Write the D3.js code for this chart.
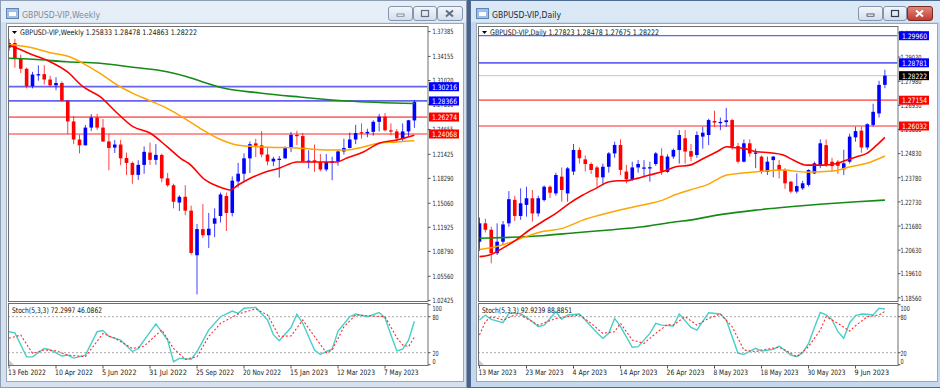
<!DOCTYPE html>
<html>
<head>
<meta charset="utf-8">
<script src="https://cdn.jsdelivr.net/npm/d3@7/dist/d3.min.js"></script>
<style>
html,body{margin:0;padding:0;background:#6f86a6;}
svg{display:block;}
</style>
</head>
<body>
<svg id="chart" width="940" height="388"></svg>
<script>
// ================= WEEKLY (left window) =================
const weeklyTitle = "GBPUSD-VIP,Weekly";
const weeklyHeader = "GBPUSD-VIP,Weekly  1.25833 1.28478 1.24863 1.28222";
const weeklyStochLabel = "Stoch(5,3,3) 72.2997 46.0862";
const weeklyDateIdx = [0, 8, 16, 24, 32, 40, 48, 56, 64];
const weeklyDateLabels = ["13 Feb 2022","10 Apr 2022","5 Jun 2022","31 Jul 2022","25 Sep 2022","20 Nov 2022","15 Jan 2023","12 Mar 2023","7 May 2023"];
const weeklyPriceTicks = [1.37385,1.34155,1.31020,1.27890,1.24655,1.21425,1.18290,1.15060,1.11925,1.08790,1.05560,1.02425];
const weeklyOpen = [1.3530,1.3590,1.3385,1.3255,1.3030,1.3180,1.3185,1.3115,1.3040,1.3070,
  1.2840,1.2570,1.2335,1.2260,1.2490,1.2620,1.2490,1.2310,1.2230,1.2270,
  1.2095,1.2030,1.1875,1.2005,1.2165,1.2070,1.2135,1.1830,1.1740,1.1515,
  1.1590,1.1410,1.0830,1.1170,1.1090,1.1240,1.1340,1.1600,1.1380,1.1790,
  1.1890,1.2090,1.2285,1.2260,1.2140,1.2050,1.2075,1.2090,1.2230,1.2395,
  1.2380,1.2045,1.2065,1.2040,1.1945,1.2040,1.2050,1.2180,1.2225,1.2335,
  1.2430,1.2415,1.2435,1.2565,1.2632,1.2455,1.2440,1.2350,1.2440,1.25833];
const weeklyHigh = [1.3645,1.3645,1.3440,1.3270,1.3215,1.3300,1.3300,1.3165,1.3145,1.3090,
  1.2845,1.2640,1.2400,1.2525,1.2665,1.2670,1.2600,1.2405,1.2330,1.2330,
  1.2165,1.2050,1.2065,1.2245,1.2295,1.2275,1.2150,1.1900,1.1760,1.1610,
  1.1740,1.1475,1.1235,1.1495,1.1380,1.1440,1.1645,1.1645,1.1855,1.2030,
  1.2155,1.2310,1.2345,1.2445,1.2240,1.2110,1.2120,1.2245,1.2435,1.2450,
  1.2420,1.2195,1.2270,1.2145,1.2145,1.2110,1.2205,1.2345,1.2425,1.2525,
  1.2545,1.2475,1.2585,1.2668,1.2680,1.2545,1.2470,1.2545,1.2590,1.28478];
const weeklyLow = [1.3490,1.3270,1.3200,1.3000,1.3000,1.3100,1.3050,1.3020,1.2975,1.2830,
  1.2410,1.2275,1.2155,1.2255,1.2445,1.2460,1.2305,1.1935,1.2160,1.2000,
  1.1875,1.1760,1.1810,1.1890,1.2005,1.2005,1.1780,1.1720,1.1440,1.1405,
  1.1350,1.0840,1.0320,1.1055,1.0925,1.1065,1.1255,1.1145,1.1335,1.1710,
  1.1780,1.1900,1.2105,1.2105,1.2000,1.1990,1.1840,1.2085,1.2170,1.2265,
  1.2045,1.1960,1.1915,1.1925,1.1920,1.1805,1.1995,1.2140,1.2220,1.2275,
  1.2345,1.2365,1.2385,1.2440,1.2440,1.2390,1.2305,1.2305,1.2370,1.24863];
const weeklyClose = [1.3590,1.3385,1.3255,1.3030,1.3180,1.3185,1.3115,1.3040,1.3070,1.2840,
  1.2570,1.2335,1.2260,1.2490,1.2620,1.2490,1.2310,1.2225,1.2270,1.2090,
  1.2030,1.1875,1.2005,1.2175,1.2070,1.2135,1.1830,1.1740,1.1525,1.1590,
  1.1410,1.0860,1.1170,1.1090,1.1175,1.1310,1.1620,1.1380,1.1800,1.1890,
  1.2090,1.2275,1.2255,1.2140,1.2050,1.2085,1.2085,1.2230,1.2395,1.2380,
  1.2050,1.2060,1.2040,1.1945,1.2040,1.2050,1.2180,1.2225,1.2335,1.2420,
  1.2415,1.2435,1.2565,1.2632,1.2455,1.2440,1.2350,1.2440,1.2585,1.28222];
// moving averages: [bar, price]
const weeklyMaRed = [[0,1.3560],[0.7,1.3542],[4.1,1.3434],[7,1.3347],[9.9,1.3217],[12.6,1.3022],[15.5,1.2892],
  [18.4,1.2680],[21.1,1.2502],[24,1.2420],[26.9,1.2242],[29.6,1.2069],[30.5,1.2030],[33.4,1.1809],
  [36.3,1.1705],[37.6,1.1679],[39,1.1744],[40.5,1.1809],[43.2,1.1900],[46.1,1.1965],[49,1.2043],
  [51.7,1.2043],[55.8,1.2043],[57.5,1.2095],[60.3,1.2173],[63.1,1.2290],[66,1.2329],[69,1.2390]];
const weeklyMaOrange = [[0,1.3570],[0.7,1.3564],[4.1,1.3525],[7,1.3464],[9.9,1.3421],[12.6,1.3326],[15.5,1.3196],
  [18.4,1.3044],[21.1,1.2936],[24,1.2840],[26.9,1.2741],[29.6,1.2624],[32.5,1.2481],[35.9,1.2338],
  [38.8,1.2264],[43.2,1.2238],[49,1.2225],[54.6,1.2199],[57.5,1.2199],[60.3,1.2238],[63.1,1.2290],
  [66,1.2303],[69,1.2320]];
const weeklyMaGreen = [[0,1.3391],[4.1,1.3378],[9.9,1.3347],[15.5,1.3326],[21.1,1.3274],[26.9,1.3217],
  [30.3,1.3152],[33.7,1.3066],[35.9,1.3014],[42.7,1.2940],[49.5,1.2888],[57.5,1.2836],[69,1.2804]];
const weeklyBlueLevels = [1.30216, 1.28366];
const weeklyRedLevels = [1.26274, 1.24068];
const weeklyStochMain = [[0,55],[1,53],[3,13],[4,13],[6,27],[7,25],[9,14.5],[10,16],[11,11],[13,16],[15,55],
  [16,57],[17,47],[19,41],[21,22],[22,27],[25,68],[27,41],[28,5],[29,10.5],[31,9],[32,22],[34,58],[36,80],
  [38,89.5],[39,85.5],[40,94],[42,95.5],[44,74.5],[45,50],[46,40],[48,62],[49,84],[50,69],[52,24.5],[53,17],
  [54,22],[55,26],[56,56],[58,80],[59,84.5],[61,80],[63,87],[64,78],[65,50],[66,23],[67,26],[68,41],[69,72.3]];
const weeklyStochSignal = [[0,44],[2,49.5],[4,19],[6,24.5],[8,23],[10,16],[13,13.3],[16,52],[18,44],[21,27],
  [23,31],[26,58],[28,27],[30,9],[32,13.3],[34,47],[36,69],[39,84.5],[42,93],[44,83],[46,47],[48,48],[50,74.5],
  [52,47],[54,20],[55,24.5],[57,63],[59,83],[62,81],[64,80],[66,45],[67,33],[68,30],[69,46.1]];

// ================= DAILY (right window) =================
const dailyTitle = "GBPUSD-VIP,Daily";
const dailyHeader = "GBPUSD-VIP,Daily  1.27823 1.28478 1.27675 1.28222";
const dailyStochLabel = "Stoch(5,3,3) 92.9239 88.8851";
const dailyDateIdx = [0, 8, 16, 24, 32, 40, 48, 56, 64];
const dailyDateLabels = ["13 Mar 2023","23 Mar 2023","4 Apr 2023","14 Apr 2023","26 Apr 2023","8 May 2023","18 May 2023","30 May 2023","9 Jun 2023"];
const dailyPriceTicks = [1.30080,1.29030,1.27980,1.26930,1.25880,1.24830,1.23780,1.22730,1.21680,1.20630,1.19610,1.18560];
const dailyOpen = [1.2100,1.2180,1.2152,1.2050,1.2100,1.2180,1.2282,1.2212,1.2260,1.2289,
  1.2223,1.2281,1.2339,1.2310,1.2383,1.2310,1.2405,1.2499,1.2458,1.2438,
  1.2423,1.2380,1.2426,1.2484,1.2521,1.2405,1.2371,1.2423,1.2420,1.2420,
  1.2438,1.2474,1.2404,1.2470,1.2499,1.2550,1.2494,1.2477,1.2557,1.2564,
  1.2625,1.2618,1.2620,1.2629,1.2516,1.2448,1.2528,1.2484,1.2470,1.2404,
  1.2455,1.2434,1.2412,1.2361,1.2318,1.2332,1.2347,1.2397,1.2434,1.2520,
  1.2448,1.2448,1.2415,1.2448,1.2554,1.2583,1.2510,1.2608,1.2658,1.27823];
const dailyHigh = [1.2205,1.2200,1.2165,1.2180,1.2190,1.2320,1.2300,1.2332,1.2339,1.2325,
  1.2300,1.2345,1.2345,1.2400,1.2423,1.2425,1.2525,1.2510,1.2475,1.2445,
  1.2430,1.2440,1.2490,1.2535,1.2545,1.2434,1.2448,1.2455,1.2455,1.2448,
  1.2490,1.2506,1.2480,1.2505,1.2585,1.2585,1.2525,1.2580,1.2600,1.2635,
  1.2670,1.2640,1.2682,1.2635,1.2530,1.2545,1.2545,1.2505,1.2475,1.2470,
  1.2473,1.2455,1.2420,1.2365,1.2397,1.2365,1.2415,1.2448,1.2545,1.2545,
  1.2465,1.2455,1.2500,1.2570,1.2600,1.2600,1.2615,1.2700,1.2800,1.28478];
const dailyLow = [1.2060,1.2140,1.2006,1.2042,1.2085,1.2165,1.2190,1.2195,1.2209,1.2187,
  1.2210,1.2275,1.2290,1.2300,1.2274,1.2274,1.2390,1.2440,1.2405,1.2395,
  1.2339,1.2345,1.2400,1.2465,1.2390,1.2354,1.2365,1.2400,1.2380,1.2361,
  1.2430,1.2390,1.2400,1.2460,1.2440,1.2440,1.2450,1.2465,1.2505,1.2520,
  1.2600,1.2585,1.2599,1.2500,1.2440,1.2445,1.2470,1.2420,1.2395,1.2390,
  1.2380,1.2375,1.2330,1.2310,1.2310,1.2325,1.2340,1.2395,1.2420,1.2425,
  1.2405,1.2395,1.2390,1.2440,1.2535,1.2487,1.2500,1.2600,1.2640,1.27675];
const dailyClose = [1.2180,1.2152,1.2050,1.2100,1.2175,1.2285,1.2212,1.2267,1.2289,1.2223,
  1.2289,1.2339,1.2313,1.2390,1.2325,1.2419,1.2499,1.2463,1.2438,1.2412,
  1.2380,1.2426,1.2484,1.2521,1.2412,1.2371,1.2423,1.2438,1.2423,1.2424,
  1.2484,1.2408,1.2470,1.2499,1.2564,1.2492,1.2470,1.2564,1.2574,1.2629,
  1.2618,1.2621,1.2628,1.2513,1.2448,1.2528,1.2484,1.2488,1.2404,1.2448,
  1.2470,1.2412,1.2354,1.2318,1.2342,1.2354,1.2412,1.2441,1.2528,1.2434,
  1.2429,1.2430,1.2441,1.2557,1.2581,1.2510,1.2611,1.2665,1.2782,1.28222];
const dailyMaRed = [[0,1.2035],[1.7,1.2042],[3.9,1.2071],[6.2,1.2107],[8.5,1.2151],[10.7,1.2187],[13,1.2223],
  [15.3,1.2267],[17.6,1.2303],[19.8,1.2332],[22.1,1.2361],[23.8,1.2365],[25,1.2365],[26.1,1.2371],
  [28.9,1.2390],[31.2,1.2405],[33.4,1.2426],[35.8,1.2433],[38.1,1.2462],[40.4,1.2491],[42.1,1.2513],
  [43.2,1.2510],[44.9,1.2506],[47.2,1.2491],[49.4,1.2487],[51.7,1.2477],[53.4,1.2455],[55.7,1.2433],
  [58.5,1.2433],[60.8,1.2440],[62.5,1.2455],[64.2,1.2470],[65.9,1.2484],[67.6,1.2520],[69,1.2554]];
const dailyMaOrange = [[0,1.2066],[2.8,1.2078],[5.1,1.2096],[7.9,1.2122],[10.7,1.2144],[14.1,1.2158],
  [17.6,1.2194],[21,1.2219],[24.4,1.2241],[27.8,1.2260],[31.2,1.2281],[33.4,1.2305],[35.8,1.2325],
  [38.7,1.2347],[42.1,1.2390],[47.2,1.2404],[51.7,1.2412],[55.7,1.2402],[60.2,1.2407],[63.1,1.2426],
  [65.9,1.2441],[69,1.2473]];
const dailyMaGreen = [[0,1.2115],[5.1,1.2119],[10.7,1.2126],[16.4,1.2139],[22.1,1.2151],[27.8,1.2165],
  [33.4,1.2187],[35.8,1.2194],[41.5,1.2220],[47.2,1.2238],[52.8,1.2252],[58.5,1.2264],[64.2,1.2274],[69,1.2281]];
const dailyBlueLevels = [1.29960, 1.28781];
const dailyRedLevels = [1.27154, 1.26032];
const dailyBid = 1.28222;
const dailyStochMain = [[0,74.5],[1,82.8],[2,75.6],[4,70],[5,85.6],[7,85.6],[9,72],[10,63.3],[11,66],[13,88.3],
  [14,75.6],[15,82.8],[17,84.5],[18,74.5],[20,53.3],[21,44],[22,52.2],[23,77.2],[24,63.3],[26,29],[27,30],
  [29,52.2],[30,69],[31,66],[33,64.5],[34,84.5],[36,62.2],[37,57.8],[39,86.7],[41,84.5],[42,74.5],[44,19],
  [45,17.2],[47,27.3],[48,22.8],[50,25.6],[51,31.1],[53,16],[54,13.3],[55,20],[56,35],[57,62],[58,87],
  [59,83],[60,75],[61,55],[62,44],[63,70],[64,82],[65,84.5],[66,84],[67,82.8],[68,94],[69,92.9]];
const dailyStochSignal = [[0,49.5],[1,71.7],[2,80],[4,74.5],[6,82.8],[7,82.8],[10,66],[13,77.2],[15,80],[17,82.8],
  [19,69],[21,52.2],[23,55],[24,69],[26,41],[28,35.6],[30,52.2],[32,67.2],[33,66],[35,80],[37,66],[39,77.2],
  [41,84.5],[43,63.3],[45,24.5],[47,21.7],[48,24.5],[51,29],[52,24.5],[54,13.3],[56,30],[58,57.8],[59,80],
  [61,69],[63,56],[64,65],[66,80],[68,82.8],[69,88.9]];

// ================= DRAWING =================
const svg = d3.select("#chart");
const defs = svg.append("defs");
function grad(id, c1, c2) {
  const g = defs.append("linearGradient").attr("id", id).attr("x1",0).attr("y1",0).attr("x2",0).attr("y2",1);
  g.append("stop").attr("offset","0%").attr("stop-color",c1);
  g.append("stop").attr("offset","100%").attr("stop-color",c2);
}
grad("tbInactive", "#e6eef8", "#d4e0ee");
grad("tbActive", "#dbe8f6", "#c3d6ee");
grad("btn", "#f4f7fb", "#d3ddea");
grad("btnClose", "#e08a80", "#c0392f");

svg.append("rect").attr("x",0).attr("y",0).attr("width",940).attr("height",388).attr("fill","#6f86a6");

const FONT = "'DejaVu Sans', sans-serif";
const SMALL = "'Liberation Sans', Arial, sans-serif";

function drawWindow(cfg) {
  const g = svg.append("g");
  const wx = cfg.wx, ww = cfg.ww;
  // window frame
  g.append("rect").attr("x", wx+0.5).attr("y",0.5).attr("width", ww-1).attr("height",387)
    .attr("fill", cfg.active ? "url(#tbActive)" : "url(#tbInactive)")
    .attr("stroke", cfg.active ? "#4d6a92" : "#8c9db4");
  g.append("rect").attr("x", wx+1).attr("y",22).attr("width", ww-2).attr("height",365)
    .attr("fill", cfg.active ? "#c6d8ee" : "#d6e1ef");
  // icon
  g.append("rect").attr("x", wx+6.5).attr("y",8.5).attr("width",12).attr("height",10)
    .attr("fill","#9cc0e8").attr("stroke","#5d84b6");
  g.append("rect").attr("x", wx+8.5).attr("y",11.5).attr("width",8).attr("height",5)
    .attr("fill","#ffffff").attr("stroke","#8aaad0").attr("stroke-width",0.6);
  // title
  g.append("text").attr("x", wx+22).attr("y",18).text(cfg.title)
    .attr("font-family", FONT).attr("font-size", 9.5)
    .attr("textLength", cfg.titleLen).attr("lengthAdjust","spacingAndGlyphs")
    .attr("fill", cfg.active ? "#1c2a3c" : "#7d8a9a");
  // buttons
  const bx = wx + 388;
  const btns = [{x:bx, w:24},{x:bx+25, w:23},{x:bx+49, w:25}];
  btns.forEach((b,i) => {
    const isClose = i===2 && cfg.active;
    g.append("rect").attr("x", b.x+0.5).attr("y",6.5).attr("width", b.w).attr("height",14).attr("rx",2.5)
      .attr("fill", isClose ? "url(#btnClose)" : "url(#btn)")
      .attr("stroke", isClose ? "#7d2b22" : "#8496ae");
  });
  const gc = cfg.active ? "#2d3d55" : "#5f6f85";
  g.append("rect").attr("x", bx+9).attr("y",14).attr("width",7).attr("height",2.2).attr("fill","#fff").attr("stroke",gc).attr("stroke-width",0.8);
  g.append("rect").attr("x", bx+33.5).attr("y",10.5).attr("width",7).attr("height",6).attr("fill","none").attr("stroke",gc).attr("stroke-width",1.2);
  const cx = bx+49+12.5, cy = 13.5;
  g.append("path").attr("d", `M${cx-3.5},${cy-3}L${cx+3.5},${cy+3}M${cx+3.5},${cy-3}L${cx-3.5},${cy+3}`)
    .attr("stroke", cfg.active ? "#ffffff" : gc).attr("stroke-width", 2);

  // client area
  g.append("rect").attr("x", wx+6.5).attr("y",23.5).attr("width", cfg.clientW).attr("height",358)
    .attr("fill","#ffffff").attr("stroke","#9aa8ba");

  const px0 = cfg.px0, px1 = cfg.px1;
  const top = 26, mainBottom = 301, sTop = 303, sBottom = 365;

  // frames
  g.append("rect").attr("x", px0+0.5).attr("y", top+0.5).attr("width", px1-px0).attr("height", mainBottom-top)
    .attr("fill","none").attr("stroke","#6e6e6e");
  g.append("rect").attr("x", px0+0.5).attr("y", sTop+0.5).attr("width", px1-px0).attr("height", sBottom-sTop)
    .attr("fill","none").attr("stroke","#6e6e6e");

  const x = d3.scaleLinear().domain([0, 69]).range(cfg.xRange);
  const y = d3.scaleLinear().domain(cfg.yDomain).range(cfg.yRange);
  const ys = d3.scaleLinear().domain([0, 100]).range([364.7, 304.7]);

  const clipId = "clip" + cfg.id, sclipId = "sclip" + cfg.id;
  defs.append("clipPath").attr("id", clipId).append("rect")
    .attr("x", px0+1).attr("y", top+1).attr("width", px1-px0-1).attr("height", mainBottom-top-1);
  defs.append("clipPath").attr("id", sclipId).append("rect")
    .attr("x", px0+1).attr("y", sTop+1).attr("width", px1-px0-1).attr("height", sBottom-sTop-1);

  const plot = g.append("g").attr("clip-path", `url(#${clipId})`);

  // horizontal levels
  if (cfg.bid !== undefined) {
    plot.append("line").attr("x1", px0).attr("x2", px1).attr("y1", y(cfg.bid)).attr("y2", y(cfg.bid))
      .attr("stroke","#c4c4c4").attr("stroke-width",1);
  }
  cfg.blue.forEach((v,i) => plot.append("line").attr("x1",px0).attr("x2",px1).attr("y1",y(v)).attr("y2",y(v))
    .attr("stroke", "#6464f0").attr("stroke-width", cfg.id==="d" && i===0 ? 1.2 : 1.7));
  cfg.red.forEach(v => plot.append("line").attr("x1",px0).attr("x2",px1).attr("y1",y(v)).attr("y2",y(v))
    .attr("stroke", "#ff7070").attr("stroke-width", 1.7));

  // candles
  const n = cfg.open.length;
  const idx = d3.range(n);
  const col = i => cfg.close[i] >= cfg.open[i] ? "#0000ff" : "#ff0000";
  plot.selectAll("line.wick").data(idx).join("line").attr("class","wick")
    .attr("x1", i => x(i)).attr("x2", i => x(i))
    .attr("y1", i => y(cfg.high[i])).attr("y2", i => y(cfg.low[i]))
    .attr("stroke", col).attr("stroke-width", 1).attr("stroke-opacity", 0.75);
  const bw = 3.6;
  plot.selectAll("rect.body").data(idx).join("rect").attr("class","body")
    .attr("x", i => x(i) - bw/2)
    .attr("y", i => y(Math.max(cfg.open[i], cfg.close[i])))
    .attr("width", bw)
    .attr("height", i => Math.max(1.3, Math.abs(y(cfg.open[i]) - y(cfg.close[i]))))
    .attr("fill", col);

  // moving averages
  const line = d3.line().x(d => x(d[0])).y(d => y(d[1])).curve(d3.curveMonotoneX);
  plot.append("path").attr("d", line(cfg.maGreen)).attr("fill","none").attr("stroke","#168a16").attr("stroke-width",1.6);
  plot.append("path").attr("d", line(cfg.maOrange)).attr("fill","none").attr("stroke","#ffa500").attr("stroke-width",1.5);
  plot.append("path").attr("d", line(cfg.maRed)).attr("fill","none").attr("stroke","#ff0000").attr("stroke-width",1.6);

  // header
  g.append("path").attr("d", `M${px0+4},${top+5}L${px0+9},${top+5}L${px0+6.5},${top+8}Z`).attr("fill","#000");
  g.append("text").attr("x", px0+12).attr("y", top+9).text(cfg.header)
    .attr("font-family", FONT).attr("font-size", 7.6)
    .attr("textLength", cfg.headerLen).attr("lengthAdjust","spacingAndGlyphs").attr("fill","#111");

  // price axis ticks
  const lx = cfg.labelX;
  const axisG = g.append("g");
  cfg.ticks.forEach(v => {
    const yy = y(v);
    axisG.append("line").attr("x1", px1+0.5).attr("x2", px1+3).attr("y1", yy).attr("y2", yy).attr("stroke","#555");
    axisG.append("text").attr("x", lx).attr("y", yy+2.8).text(d3.format(".5f")(v))
      .attr("font-family", FONT).attr("font-size", 7.2)
      .attr("textLength", 21).attr("lengthAdjust","spacingAndGlyphs").attr("fill","#222");
  });
  // price boxes
  const box = (v, fill) => {
    const yy = y(v);
    axisG.append("rect").attr("x", px1+1.5).attr("y", yy-4.5).attr("width", 30).attr("height", 9).attr("fill", fill);
    axisG.append("text").attr("x", px1+4.5).attr("y", yy+2.9).text(d3.format(".5f")(v))
      .attr("font-family", FONT).attr("font-size", 7.4)
      .attr("textLength", 25).attr("lengthAdjust","spacingAndGlyphs").attr("fill","#ffffff");
  };
  cfg.blue.forEach(v => box(v, "#0000ff"));
  if (cfg.bid !== undefined) box(cfg.bid, "#000000");
  cfg.red.forEach(v => box(v, "#ff0000"));

  // stochastic panel
  const sp = g.append("g").attr("clip-path", `url(#${sclipId})`);
  [20, 80].forEach(l => sp.append("line").attr("x1", px0).attr("x2", px1).attr("y1", ys(l)).attr("y2", ys(l))
    .attr("stroke","#a8a8a8").attr("stroke-dasharray","2,2").attr("stroke-width",1));
  const sl = d3.line().x(d => x(d[0])).y(d => ys(d[1]));
  sp.append("path").attr("d", sl(cfg.stochMain)).attr("fill","none").attr("stroke","#48cfc7").attr("stroke-width",1.4);
  sp.append("path").attr("d", sl(cfg.stochSignal)).attr("fill","none").attr("stroke","#ff2a2a")
    .attr("stroke-width",1.1).attr("stroke-dasharray","2,2");
  sp.append("path").attr("d", `M${px0+1},${sBottom}L${px0+1},${sBottom-5}L${px0+6},${sBottom}Z`).attr("fill","#c8c8c8");
  g.append("text").attr("x", px0+4).attr("y", sTop+9.5).text(cfg.stochLabel)
    .attr("font-family", FONT).attr("font-size", 7.6)
    .attr("textLength", 90).attr("lengthAdjust","spacingAndGlyphs").attr("fill","#111");
  [[100,308.5],[80,317],[20,353],[0,361]].forEach(([v,yy]) => {
    g.append("line").attr("x1", px1+0.5).attr("x2", px1+3).attr("y1", ys(v)).attr("y2", ys(v)).attr("stroke","#555");
    g.append("text").attr("x", lx).attr("y", yy+2.6).text(String(v))
      .attr("font-family", FONT).attr("font-size", 7.2)
      .attr("textLength", String(v).length*3.1).attr("lengthAdjust","spacingAndGlyphs").attr("fill","#222");
  });

  // time axis
  cfg.dateIdx.forEach((bi, k) => {
    const xx = x(bi);
    g.append("line").attr("x1", xx).attr("x2", xx).attr("y1", sBottom+0.5).attr("y2", sBottom+3.5).attr("stroke","#555");
    const lab = cfg.dateLabels[k];
    g.append("text").attr("x", xx - 1).attr("y", 375).text(lab)
      .attr("font-family", FONT).attr("font-size", 7.4)
      .attr("textLength", lab.length*3.45).attr("lengthAdjust","spacingAndGlyphs").attr("fill","#222");
  });
}

// gap between windows
drawWindow({
  id: "w", wx: 0, ww: 467, active: false, title: weeklyTitle, titleLen: 78, clientW: 457,
  px0: 8, px1: 427.5, labelX: 432.5, xRange: [9, 414.4],
  yDomain: [1.02425, 1.37385], yRange: [300.4, 31.6],
  open: weeklyOpen, high: weeklyHigh, low: weeklyLow, close: weeklyClose,
  maRed: weeklyMaRed, maOrange: weeklyMaOrange, maGreen: weeklyMaGreen,
  blue: weeklyBlueLevels, red: weeklyRedLevels,
  header: weeklyHeader, headerLen: 177, ticks: weeklyPriceTicks,
  stochMain: weeklyStochMain, stochSignal: weeklyStochSignal, stochLabel: weeklyStochLabel,
  dateIdx: weeklyDateIdx, dateLabels: weeklyDateLabels
});
svg.append("rect").attr("x",467).attr("y",0).attr("width",3).attr("height",388).attr("fill","#4a6287");
drawWindow({
  id: "d", wx: 470, ww: 472, active: true, title: dailyTitle, titleLen: 69, clientW: 461,
  px0: 478, px1: 897.5, labelX: 900.5, xRange: [479.5, 884.9],
  yDomain: [1.18560, 1.29960], yRange: [297.8, 35.7],
  open: dailyOpen, high: dailyHigh, low: dailyLow, close: dailyClose,
  maRed: dailyMaRed, maOrange: dailyMaOrange, maGreen: dailyMaGreen,
  blue: dailyBlueLevels, red: dailyRedLevels, bid: dailyBid,
  header: dailyHeader, headerLen: 169, ticks: dailyPriceTicks,
  stochMain: dailyStochMain, stochSignal: dailyStochSignal, stochLabel: dailyStochLabel,
  dateIdx: dailyDateIdx, dateLabels: dailyDateLabels
});
</script>
</body>
</html>
